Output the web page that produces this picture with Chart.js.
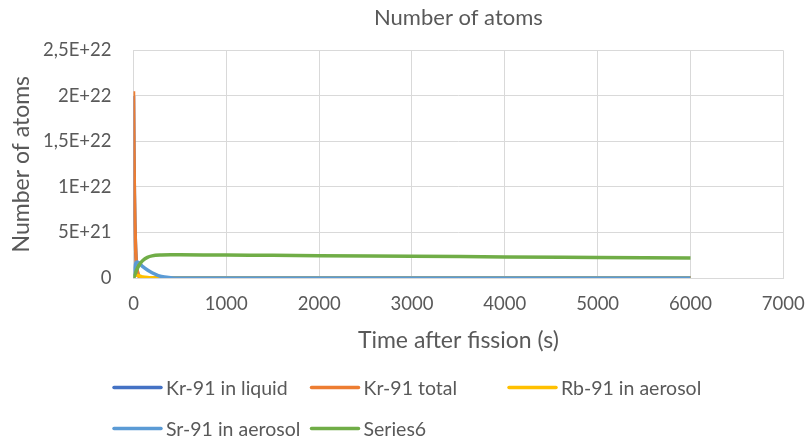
<!DOCTYPE html>
<html>
<head>
<meta charset="utf-8">
<script src="https://cdn.jsdelivr.net/npm/chart.js@4/dist/chart.umd.min.js"></script>
<style>
  html, body { margin: 0; padding: 0; background: #ffffff; }
  #wrap { position: relative; width: 806px; height: 437px; }
</style>
</head>
<body>
<div id="wrap"><canvas id="chart" width="806" height="437"></canvas></div>
<script>
// Time after fission (s)
const times = [0, 5, 10, 15, 20, 30, 40, 50, 60, 80, 100, 150, 200, 300, 400, 500, 750, 1000, 1500, 2000, 3000, 4000, 5000, 6000];

// Number of atoms per series
const kr91Liquid = [2.0e22, 1.34e22, 9.0e21, 6.0e21, 4.0e21, 1.75e21, 8.0e20, 3.6e20, 1.6e20, 3.2e19, 6e18, 1e17, 0, 0, 0, 0, 0, 0, 0, 0, 0, 0, 0, 0];
const kr91Total = [2.05e22, 1.37e22, 9.2e21, 6.1e21, 4.1e21, 1.8e21, 8.2e20, 3.7e20, 1.6e20, 3.3e19, 6e18, 1e17, 0, 0, 0, 0, 0, 0, 0, 0, 0, 0, 0, 0];
const rb91Aerosol = [0, 1.5e20, 2.5e20, 2.8e20, 3.0e20, 3.0e20, 2.9e20, 2.7e20, 2.4e20, 1.8e20, 1.2e20, 5e19, 2e19, 0, 0, 0, 0, 0, 0, 0, 0, 0, 0, 0];
const sr91Aerosol = [0, 5e20, 9e20, 1.2e21, 1.45e21, 1.7e21, 1.75e21, 1.72e21, 1.65e21, 1.45e21, 1.25e21, 8.8e20, 5.8e20, 1.6e20, 4e19, 1e19, 0, 0, 0, 0, 0, 0, 0, 0];
const series6 = [0, 1e20, 2.2e20, 3.6e20, 5e20, 7.8e20, 1.02e21, 1.22e21, 1.4e21, 1.7e21, 1.93e21, 2.27e21, 2.43e21, 2.53e21, 2.55e21, 2.55e21, 2.54e21, 2.52e21, 2.49e21, 2.45e21, 2.39e21, 2.32e21, 2.26e21, 2.2e21];

const seriesNames = ['Kr-91 in liquid', 'Kr-91 total', 'Rb-91 in aerosol', 'Sr-91 in aerosol', 'Series6'];
const seriesValues = [kr91Liquid, kr91Total, rb91Aerosol, sr91Aerosol, series6];
const seriesColors = ['#4472C4', '#ED7D31', '#FFC000', '#5B9BD5', '#70AD47'];

// Axis tick labels
const xTickValues = [0, 1000, 2000, 3000, 4000, 5000, 6000, 7000];
const yTickLabels = ['0', '5E+21', '1E+22', '1,5E+22', '2E+22', '2,5E+22'];

const TEXT = '#595959';
const GRID = '#D9D9D9';
const FONT = 'Lato';

const datasets = seriesNames.map((name, s) => ({
  label: name,
  data: times.map((t, i) => ({ x: t, y: seriesValues[s][i] })),
  borderColor: seriesColors[s],
  backgroundColor: seriesColors[s],
  borderWidth: 3.5,
  pointRadius: 0,
  fill: false,
  cubicInterpolationMode: 'monotone',
  order: seriesNames.length - s
}));

// Legend laid out on a fixed grid, three entries per row
const gridLegend = {
  id: 'gridLegend',
  afterDraw(chart) {
    const ctx = chart.ctx;
    ctx.save();
    ctx.font = '19.5px ' + FONT;
    ctx.textBaseline = 'middle';
    ctx.textAlign = 'left';
    chart.data.datasets.forEach((ds, i) => {
      const col = i % 3, row = Math.floor(i / 3);
      const x0 = 114 + col * 197.5;
      const y0 = 387.5 + row * 41;
      ctx.strokeStyle = ds.borderColor;
      ctx.lineWidth = 3.5;
      ctx.lineCap = 'round';
      ctx.beginPath();
      ctx.moveTo(x0, y0);
      ctx.lineTo(x0 + 47, y0);
      ctx.stroke();
      ctx.fillStyle = TEXT;
      ctx.fillText(ds.label, x0 + 52, y0 + 1);
    });
    ctx.restore();
  }
};

new Chart(document.getElementById('chart'), {
  type: 'line',
  data: { datasets },
  plugins: [gridLegend],
  options: {
    responsive: false,
    animation: false,
    events: [],
    layout: { padding: { left: 0, right: 22.7, top: 0, bottom: 79 } },
    plugins: {
      legend: { display: false },
      tooltip: { enabled: false },
      title: {
        display: true,
        fullSize: false,
        text: 'Number of atoms',
        color: TEXT,
        font: { family: FONT, size: 22, weight: 'normal' },
        padding: { top: 5, bottom: 19 }
      }
    },
    scales: {
      x: {
        type: 'linear',
        min: 0,
        max: 7000,
        afterBuildTicks(scale) { scale.ticks = xTickValues.map(v => ({ value: v })); },
        afterFit(scale) {
          scale.height = 80;
          scale.paddingLeft = 0;
          scale.paddingRight = 0;
        },
        grid: { color: GRID, lineWidth: 1, drawTicks: false },
        border: { color: GRID, width: 1 },
        ticks: {
          color: TEXT,
          font: { family: FONT, size: 18.5 },
          padding: 15,
          maxRotation: 0,
          callback: (v) => String(v)
        },
        title: {
          display: true,
          text: 'Time after fission (s)',
          color: TEXT,
          font: { family: FONT, size: 23 },
          padding: { top: 0, bottom: 4 }
        }
      },
      y: {
        min: 0,
        max: 2.5e22,
        afterBuildTicks(scale) { scale.ticks = yTickLabels.map((_, i) => ({ value: i * 5e21 })); },
        afterFit(scale) { scale.width = 133.5; },
        grid: { color: GRID, lineWidth: 1, drawTicks: false },
        border: { color: GRID, width: 1 },
        ticks: {
          color: TEXT,
          font: { family: FONT, size: 18.5 },
          padding: 22,
          callback: (v, i) => yTickLabels[i]
        },
        title: {
          display: true,
          text: 'Number of atoms',
          color: TEXT,
          font: { family: FONT, size: 23 },
          padding: { top: 8, bottom: 0 }
        }
      }
    }
  }
});
</script>
</body>
</html>
